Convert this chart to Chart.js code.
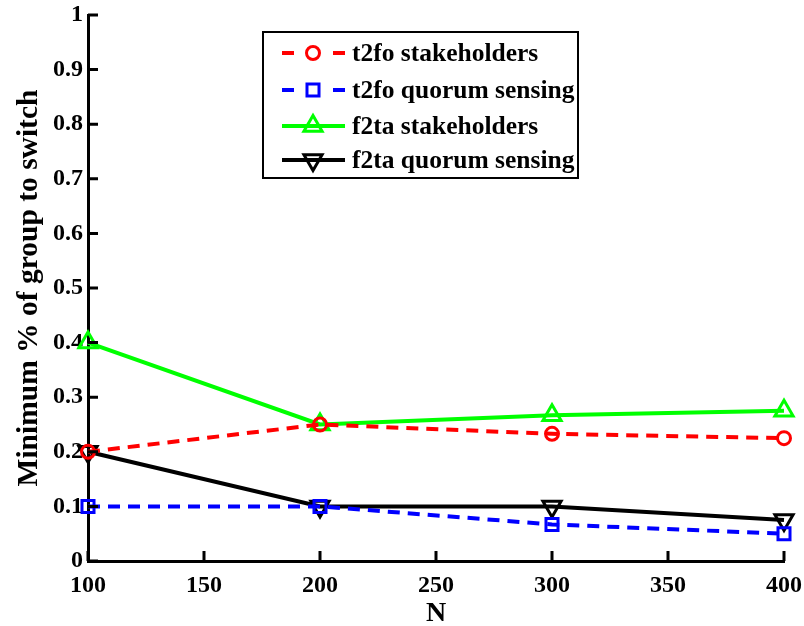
<!DOCTYPE html>
<html>
<head>
<meta charset="utf-8">
<script src="https://cdn.jsdelivr.net/npm/chart.js@4"></script>
<style>
  html, body { margin: 0; padding: 0; background: #fff; }
  #wrap { width: 804px; height: 626px; }
</style>
</head>
<body>
<div id="wrap"><canvas id="chart" width="804" height="626"></canvas></div>
<script>
// data
const nValues = [100, 200, 300, 400];
const t2foStake = [0.2, 0.25, 0.233, 0.225];
const t2foQuorum = [0.1, 0.1, 0.067, 0.05];
const f2taStake = [0.4, 0.25, 0.267, 0.275];
const f2taQuorum = [0.2, 0.1, 0.1, 0.075];
const xTicks = [100, 150, 200, 250, 300, 350, 400];
const yTicks = [0, 0.1, 0.2, 0.3, 0.4, 0.5, 0.6, 0.7, 0.8, 0.9, 1];

const FONT = '"Liberation Serif", "Times New Roman", serif';

function pts(ys) {
    return nValues.map((x, i) => ({ x: x, y: ys[i] }));
}

// ticks drawn pointing into the plot, like matlab
const inwardTicks = {
    id: 'inwardTicks',
    afterDatasetsDraw(chart) {
        const ctx = chart.ctx;
        const x = chart.scales.x, y = chart.scales.y;
        const a = chart.chartArea;
        ctx.save();
        ctx.strokeStyle = '#000';
        ctx.lineWidth = 3;
        ctx.beginPath();
        xTicks.forEach(v => {
            const px = x.getPixelForValue(v);
            ctx.moveTo(px, a.bottom);
            ctx.lineTo(px, a.bottom - 10);
        });
        yTicks.forEach(v => {
            const py = y.getPixelForValue(v);
            ctx.moveTo(a.left, py);
            ctx.lineTo(a.left + 10, py);
        });
        ctx.stroke();
        ctx.restore();
    }
};

// boxed legend inside the plot
const boxLegend = {
    id: 'boxLegend',
    afterDraw(chart) {
        const ctx = chart.ctx;
        const bx = 263, by = 32, bw = 315, bh = 146;
        ctx.save();
        ctx.fillStyle = '#fff';
        ctx.fillRect(bx, by, bw, bh);
        ctx.strokeStyle = '#000';
        ctx.lineWidth = 2;
        ctx.strokeRect(bx, by, bw, bh);
        const rows = [53, 90, 126, 160];
        chart.data.datasets.forEach((ds, i) => {
            const yy = rows[i];
            ctx.strokeStyle = ds.borderColor;
            ctx.lineWidth = 4;
            ctx.beginPath();
            if (ds.borderDash) {
                ctx.moveTo(282, yy); ctx.lineTo(294, yy);
                ctx.moveTo(333, yy); ctx.lineTo(345, yy);
            } else {
                ctx.moveTo(282, yy); ctx.lineTo(345, yy);
            }
            ctx.stroke();
            ctx.strokeStyle = ds.pointBorderColor;
            ctx.fillStyle = 'rgba(0,0,0,0)';
            ctx.lineWidth = 3;
            Chart.helpers.drawPoint(ctx, {
                pointStyle: ds.pointStyle,
                rotation: ds.pointRotation || 0,
                radius: ds.pointRadius,
                borderWidth: 3
            }, 313, yy);
            ctx.fillStyle = '#000';
            ctx.font = 'bold 25.5px ' + FONT;
            ctx.textBaseline = 'middle';
            ctx.fillText(ds.label, 352, yy + 1);
        });
        ctx.restore();
    }
};

function series(label, data, color, dash, style, rot, r) {
    return {
        label: label,
        data: pts(data),
        borderColor: color,
        backgroundColor: 'rgba(0,0,0,0)',
        pointBackgroundColor: 'rgba(0,0,0,0)',
        pointBorderColor: color,
        borderWidth: 4,
        borderDash: dash,
        pointStyle: style,
        pointRotation: rot,
        pointRadius: r,
        pointBorderWidth: 3,
        pointHoverRadius: r,
        tension: 0,
        clip: false
    };
}

window.onload = function() {
    new Chart(document.getElementById('chart'), {
        type: 'line',
        data: {
            datasets: [
                series('t2fo stakeholders', t2foStake, '#ff0000', [12, 8], 'circle', 0, 6.5),
                series('t2fo quorum sensing', t2foQuorum, '#0000ff', [12, 8], 'rect', 0, 8.5),
                series('f2ta stakeholders', f2taStake, '#00ff00', undefined, 'triangle', 0, 10.5),
                series('f2ta quorum sensing', f2taQuorum, '#000000', undefined, 'triangle', 180, 10.5)
            ]
        },
        options: {
            responsive: false,
            animation: false,
            events: [],
            layout: { padding: { top: 15, right: 20, left: 0, bottom: 0 } },
            plugins: {
                legend: { display: false },
                tooltip: { enabled: false }
            },
            scales: {
                x: {
                    type: 'linear',
                    min: 100,
                    max: 400,
                    afterBuildTicks: s => { s.ticks = xTicks.map(v => ({ value: v })); },
                    afterFit: s => { s.height = 65; s.paddingLeft = 0; s.paddingRight = 0; },
                    grid: { display: false, drawTicks: false },
                    border: { display: true, color: '#000', width: 3 },
                    ticks: {
                        color: '#000',
                        padding: 10,
                        maxRotation: 0,
                        font: { family: FONT, size: 24, weight: 'bold' }
                    },
                    title: {
                        display: true,
                        text: 'N',
                        color: '#000',
                        padding: { top: 0, bottom: -5 },
                        font: { family: FONT, size: 28, weight: 'bold' }
                    }
                },
                y: {
                    min: 0,
                    max: 1,
                    afterBuildTicks: s => { s.ticks = yTicks.map(v => ({ value: v })); },
                    afterFit: s => { s.width = 88; s.paddingTop = 0; s.paddingBottom = 0; },
                    grid: { display: false, drawTicks: false },
                    border: { display: true, color: '#000', width: 3 },
                    ticks: {
                        color: '#000',
                        padding: 5,
                        font: { family: FONT, size: 24, weight: 'bold' },
                        callback: v => String(+v.toFixed(1))
                    },
                    title: {
                        display: true,
                        text: 'Minimum % of group to switch',
                        color: '#000',
                        padding: { top: 12, bottom: 0 },
                        font: { family: FONT, size: 29.5, weight: 'bold' }
                    }
                }
            }
        },
        plugins: [inwardTicks, boxLegend]
    });
};
</script>
</body>
</html>
